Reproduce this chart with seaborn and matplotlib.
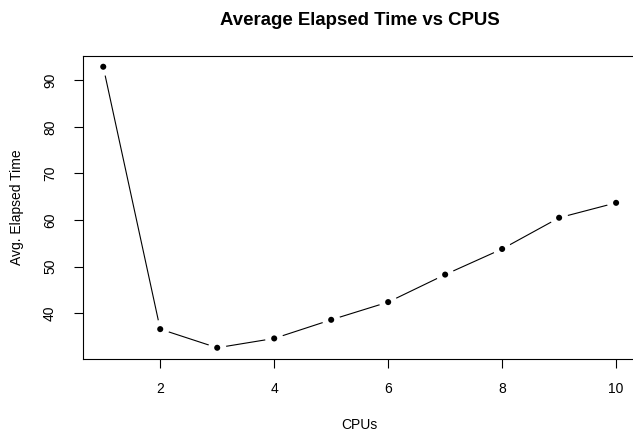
import numpy as np
import pandas as pd
import seaborn as sns
import matplotlib
matplotlib.use("Agg")
import matplotlib.pyplot as plt

cpus = [1, 2, 3, 4, 5, 6, 7, 8, 9, 10]
avg_time = [92.9, 36.6, 32.6, 34.6, 38.6, 42.4, 48.3, 53.8, 60.5, 63.7]

df = pd.DataFrame({"CPUs": cpus, "Avg. Elapsed Time": avg_time})

sns.set_style("white")
plt.rcParams['font.family'] = ['Liberation Sans', 'DejaVu Sans']
plt.rcParams['text.color'] = 'black'
plt.rcParams['axes.labelcolor'] = 'black'
plt.rcParams['xtick.color'] = 'black'
plt.rcParams['ytick.color'] = 'black'

fig = plt.figure(figsize=(6.33, 4.34), dpi=100)
ax = fig.add_axes([0.1307, 0.1728, 0.875, 0.6993])

# R type="b": line, white halo to cut gaps, then the points
sns.lineplot(data=df, x="CPUs", y="Avg. Elapsed Time", ax=ax, color="black",
             linewidth=0.8, zorder=2)
sns.scatterplot(data=df, x="CPUs", y="Avg. Elapsed Time", ax=ax, color="white",
                s=170, edgecolor="none", zorder=3)
sns.scatterplot(data=df, x="CPUs", y="Avg. Elapsed Time", ax=ax, color="black",
                s=19, edgecolor="none", zorder=5)

ax.set_xlim(0.64, 10.36)
rng = max(avg_time) - min(avg_time)
ax.set_ylim(min(avg_time) - 0.04 * rng, max(avg_time) + 0.04 * rng)
ax.set_xticks([2, 4, 6, 8, 10])
ax.set_yticks([40, 50, 60, 70, 80, 90])
for lab in ax.get_yticklabels():
    lab.set_rotation(90)
    lab.set_va("center")

ax.tick_params(axis="both", direction="out", length=6.5, width=0.8, color="black",
               labelsize=10, labelcolor="black", bottom=True, left=True)
ax.tick_params(axis="x", pad=10)
ax.tick_params(axis="y", pad=12)
for s in ax.spines.values():
    s.set_visible(True)
    s.set_color("black")
    s.set_linewidth(0.8)
    s.set_zorder(6)

ax.set_xlabel("CPUs", fontsize=10, labelpad=16)
ax.set_ylabel("Avg. Elapsed Time", fontsize=10, labelpad=14)
ax.set_title("Average Elapsed Time vs CPUS", fontsize=13.4, fontweight="bold", pad=22)

fig.savefig("out.png", dpi=100)
